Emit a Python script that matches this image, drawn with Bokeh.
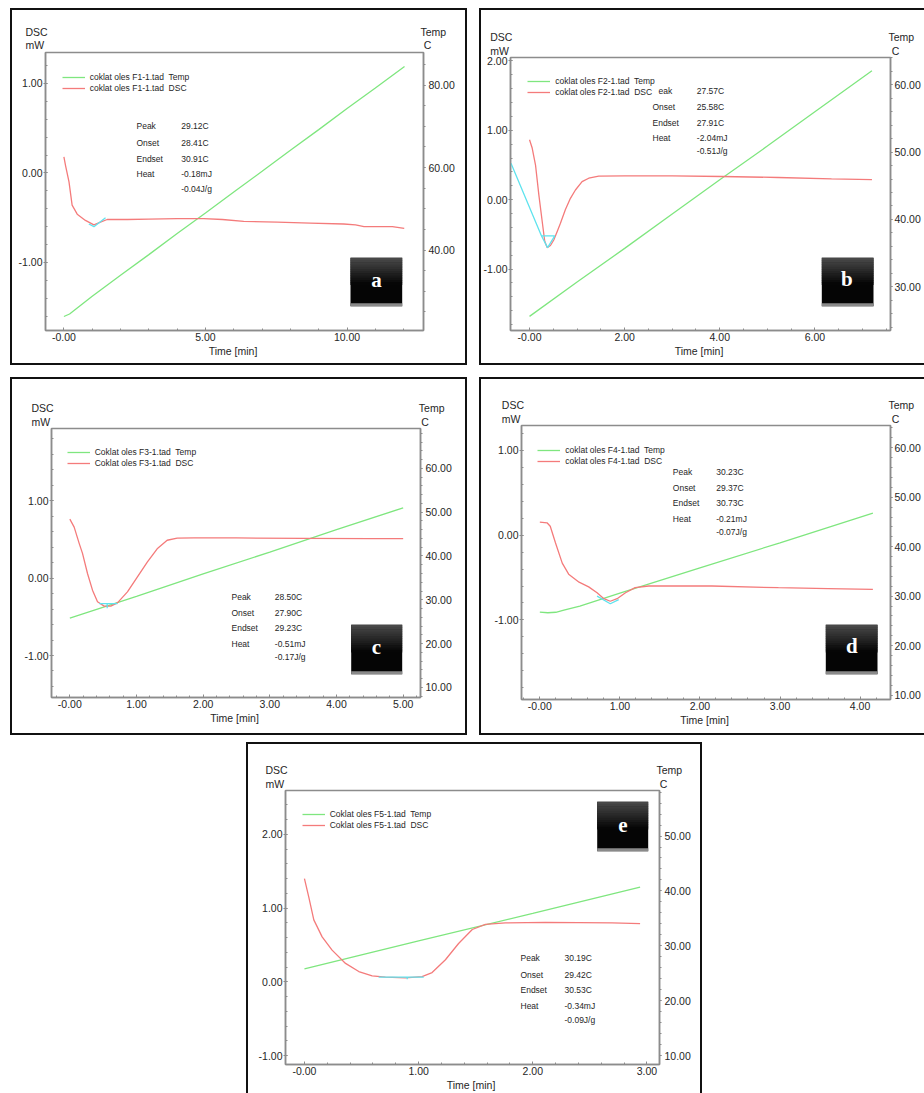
import numpy as np
from bokeh.plotting import figure
from bokeh.models import Range1d, LinearAxis, FixedTicker, PrintfTickFormatter, Label, BoxAnnotation, Spacer
from bokeh.core.properties import value
from bokeh.layouts import row, column
from bokeh.embed import file_html
from bokeh.resources import INLINE

# ---------------- data ----------------
# Panel a  (F1)
A_TEMP_T = [0.0, 0.2, 1.0, 2.0, 3.0, 4.0, 5.0, 6.0, 7.0, 8.0, 9.0, 10.0, 11.0, 12.03]
A_TEMP = [23.9, 24.5, 28.8, 33.9, 38.9, 44.0, 49.0, 54.1, 59.1, 64.2, 69.2, 74.3, 79.3, 84.5]
A_DSC_T = [0.0, 0.06, 0.18, 0.29, 0.47, 0.76, 1.06, 1.29, 1.53, 2.24, 3.0, 4.0, 4.94, 5.6,
           6.35, 7.53, 8.7, 9.88, 10.3, 10.6, 11.06, 11.6, 12.02]
A_DSC = [0.18, 0.08, -0.10, -0.36, -0.46, -0.53, -0.58, -0.55, -0.52, -0.52, -0.515, -0.51,
         -0.51, -0.52, -0.54, -0.55, -0.56, -0.57, -0.58, -0.60, -0.60, -0.60, -0.62]
A_BASE_T = [0.88, 1.06, 1.47]
A_BASE = [-0.57, -0.60, -0.50]
A_LEGEND = ["coklat oles F1-1.tad  Temp", "coklat oles F1-1.tad  DSC"]
A_STAT_NAMES = ["Peak", "Onset", "Endset", "Heat", ""]
A_STAT_VALUES = ["29.12C", "28.41C", "30.91C", "-0.18mJ", "-0.04J/g"]

# Panel b  (F2)
B_TEMP_T = [0.0, 1.0, 2.0, 3.0, 4.0, 5.0, 6.0, 7.2]
B_TEMP = [25.6, 30.7, 35.7, 40.8, 45.9, 50.9, 56.0, 62.1]
B_DSC_T = [0.0, 0.056, 0.126, 0.196, 0.266, 0.32, 0.37, 0.44, 0.51, 0.58, 0.65, 0.755, 0.86,
           0.965, 1.105, 1.245, 1.455, 2.0, 3.0, 4.04, 5.23, 6.35, 7.2]
B_DSC = [0.865, 0.745, 0.50, 0.07, -0.31, -0.60, -0.69, -0.66, -0.58, -0.46, -0.34, -0.14,
         0.02, 0.14, 0.26, 0.31, 0.34, 0.345, 0.345, 0.335, 0.32, 0.30, 0.29]
B_BASE_T = [-0.39, 0.25, 0.38, 0.53, 0.25]
B_BASE = [0.525, -0.52, -0.69, -0.52, -0.52]
B_LEGEND = ["coklat oles F2-1.tad  Temp", "coklat oles F2-1.tad  DSC"]
B_STAT_NAMES = ["eak", "Onset", "Endset", "Heat", ""]
B_STAT_VALUES = ["27.57C", "25.58C", "27.91C", "-2.04mJ", "-0.51J/g"]

# Panel c  (F3)
C_TEMP_T = [0.0, 1.0, 2.0, 3.0, 4.0, 5.0]
C_TEMP = [25.8, 30.8, 35.9, 40.9, 46.0, 51.0]
C_DSC_T = [0.0, 0.065, 0.14, 0.19, 0.265, 0.34, 0.415, 0.515, 0.614, 0.714, 0.864, 1.014,
           1.164, 1.31, 1.46, 1.61, 1.86, 2.5, 3.5, 4.5, 5.0]
C_DSC = [0.763, 0.66, 0.45, 0.32, 0.06, -0.155, -0.306, -0.362, -0.362, -0.319, -0.177, 0.017,
         0.21, 0.38, 0.49, 0.517, 0.52, 0.52, 0.515, 0.51, 0.51]
C_BASE_T = [0.44, 0.56, 0.56, 0.56, 0.714]
C_BASE = [-0.33, -0.33, -0.39, -0.33, -0.33]
C_LEGEND = ["Coklat oles F3-1.tad  Temp", "Coklat oles F3-1.tad  DSC"]
C_STAT_NAMES = ["Peak", "Onset", "Endset", "Heat", ""]
C_STAT_VALUES = ["28.50C", "27.90C", "29.23C", "-0.51mJ", "-0.17J/g"]

# Panel d  (F4)
D_TEMP_T = [0.0, 0.1, 0.2, 0.3, 0.5, 1.0, 2.0, 3.0, 4.16]
D_TEMP = [26.8, 26.65, 26.75, 27.2, 28.0, 30.6, 35.7, 40.8, 46.8]
D_DSC_T = [0.0, 0.09, 0.13, 0.195, 0.28, 0.36, 0.49, 0.61, 0.715, 0.80, 0.88, 0.965, 1.07,
           1.19, 1.36, 1.57, 2.15, 2.98, 3.6, 4.16]
D_DSC = [0.154, 0.146, 0.106, -0.09, -0.33, -0.46, -0.555, -0.61, -0.68, -0.75, -0.78, -0.75,
         -0.68, -0.62, -0.60, -0.60, -0.60, -0.62, -0.63, -0.64]
D_BASE_T = [0.715, 0.88, 0.985]
D_BASE = [-0.72, -0.81, -0.76]
D_LEGEND = ["coklat oles F4-1.tad  Temp", "coklat oles F4-1.tad  DSC"]
D_STAT_NAMES = ["Peak", "Onset", "Endset", "Heat", ""]
D_STAT_VALUES = ["30.23C", "29.37C", "30.73C", "-0.21mJ", "-0.07J/g"]

# Panel e  (F5)
E_TEMP_T = [0.0, 1.0, 2.0, 2.94]
E_TEMP = [25.8, 30.9, 35.9, 40.7]
E_DSC_T = [0.0, 0.038, 0.082, 0.155, 0.242, 0.36, 0.476, 0.593, 0.71, 0.885, 1.03, 1.118,
           1.235, 1.35, 1.47, 1.585, 1.76, 2.11, 2.695, 2.94]
E_DSC = [1.40, 1.15, 0.84, 0.61, 0.43, 0.25, 0.14, 0.08, 0.063, 0.054, 0.072, 0.126, 0.30,
         0.52, 0.71, 0.78, 0.80, 0.806, 0.80, 0.79]
E_BASE_T = [0.65, 0.90, 0.90, 0.90, 1.045]
E_BASE = [0.063, 0.063, 0.035, 0.063, 0.063]
E_LEGEND = ["Coklat oles F5-1.tad  Temp", "Coklat oles F5-1.tad  DSC"]
E_STAT_NAMES = ["Peak", "Onset", "Endset", "Heat", ""]
E_STAT_VALUES = ["30.19C", "29.42C", "30.53C", "-0.34mJ", "-0.09J/g"]

# tick positions
A_XTICKS = [0, 5, 10]; A_YTICKS = [-1, 0, 1]; A_TTICKS = [40, 60, 80]
B_XTICKS = [0, 2, 4, 6]; B_YTICKS = [-1, 0, 1, 2]; B_TTICKS = [30, 40, 50, 60]
C_XTICKS = [0, 1, 2, 3, 4, 5]; C_YTICKS = [-1, 0, 1]; C_TTICKS = [10, 20, 30, 40, 50, 60]
D_XTICKS = [0, 1, 2, 3, 4]; D_YTICKS = [-1, 0, 1]; D_TTICKS = [10, 20, 30, 40, 50, 60]
E_XTICKS = [0, 1, 2, 3]; E_YTICKS = [-1, 0, 1, 2]; E_TTICKS = [10, 20, 30, 40, 50]
PANEL_LETTERS = ["a", "b", "c", "d", "e"]
AXIS_TITLES = ["DSC", "mW", "Temp", "C"]

# ---------------- style ----------------
GREEN = "#7fe67f"
RED = "#f47b7b"
CYAN = "#5fe3ee"
AXC = "#8c8c8c"
TXT = "#262626"
FONT = "Liberation Sans"
SERIF = "Liberation Serif"

SH_FULL = "inset 0 0 0 2px #111"
SH_NORIGHT = "inset 2px 0 0 0 #111, inset 0 2px 0 0 #111, inset 0 -2px 0 0 #111"
SH_NOBOTTOM = "inset 2px 0 0 0 #111, inset -2px 0 0 0 #111, inset 0 2px 0 0 #111"

PANELS = [
    dict(size=(457, 357), borders=(35, 44, 44, 35), xr=(-0.65, 12.70), yr=(-1.76, 1.346), tr=(20.5, 87.9),
         data=(A_TEMP_T, A_TEMP, A_DSC_T, A_DSC, A_BASE_T, A_BASE), legend=A_LEGEND,
         stats=(A_STAT_NAMES, A_STAT_VALUES), ticks=(A_XTICKS, A_YTICKS, A_TTICKS), minor=(1.0, 0.2, 5.0),
         shadow=SH_FULL, dsc_pos=(15, 23.3, 36.7), temp_pos=(410, 413.3), leg=(51.7, 69.3),
         stat_x=(126, 170.7), stat_y=(117.7, 134.3, 150, 165.7, 180), stat_dx=(0, 0, 0, 0, 0),
         box=(340, 391.7, 249.3, 297.7), letter=(366, 271.7), rstand=3),
    dict(size=(445, 357), borders=(31, 34, 49, 35), xr=(-0.40, 7.59), yr=(-1.885, 2.05), tr=(23.5, 64.06),
         data=(B_TEMP_T, B_TEMP, B_DSC_T, B_DSC, B_BASE_T, B_BASE), legend=B_LEGEND,
         stats=(B_STAT_NAMES, B_STAT_VALUES), ticks=(B_XTICKS, B_YTICKS, B_TTICKS), minor=(0.5, 0.2, 2.0),
         shadow=SH_NORIGHT, dsc_pos=(10.7, 28.3, 42.7), temp_pos=(409, 412.3), leg=(48.3, 73.3),
         stat_x=(173, 217.3), stat_y=(82, 98.3, 114, 129.3, 142.7), stat_dx=(6, 0, 0, 0, 0),
         box=(342.3, 394, 249.3, 297.7), letter=(367.3, 270), rstand=2),
    dict(size=(457, 358), borders=(41, 47, 51, 38), xr=(-0.275, 5.26), yr=(-1.543, 1.935), tr=(7.7, 69.1),
         data=(C_TEMP_T, C_TEMP, C_DSC_T, C_DSC, C_BASE_T, C_BASE), legend=C_LEGEND,
         stats=(C_STAT_NAMES, C_STAT_VALUES), ticks=(C_XTICKS, C_YTICKS, C_TTICKS), minor=(0.2, 0.2, 2.0),
         shadow=SH_FULL, dsc_pos=(21, 30.7, 44), temp_pos=(408.3, 410.7), leg=(56.7, 75),
         stat_x=(221, 264.3), stat_y=(219, 235, 250.7, 266.3, 279.7), stat_dx=(0, 0, 0, 0, 0),
         box=(340.7, 391.7, 247.3, 296.7), letter=(366, 269), rstand=3),
    dict(size=(445, 358), borders=(42, 34, 48, 36), xr=(-0.229, 4.38), yr=(-1.94, 1.295), tr=(9.12, 64.5),
         data=(D_TEMP_T, D_TEMP, D_DSC_T, D_DSC, D_BASE_T, D_BASE), legend=D_LEGEND,
         stats=(D_STAT_NAMES, D_STAT_VALUES), ticks=(D_XTICKS, D_YTICKS, D_TTICKS), minor=(0.2, 0.2, 2.0),
         shadow=SH_NORIGHT, dsc_pos=(22.3, 27.3, 41.7), temp_pos=(409, 412.3), leg=(58.3, 72.7),
         stat_x=(193.3, 236.7), stat_y=(94, 110, 125.7, 141.3, 154.7), stat_dx=(0, 0, 0, 0, 0),
         box=(346.3, 398, 247.3, 296.7), letter=(372.3, 268.3), rstand=2),
    dict(size=(456, 351), borders=(39, 43, 48, 28), xr=(-0.166, 3.11), yr=(-1.12, 2.594), tr=(8.36, 58.3),
         data=(E_TEMP_T, E_TEMP, E_DSC_T, E_DSC, E_BASE_T, E_BASE), legend=E_LEGEND,
         stats=(E_STAT_NAMES, E_STAT_VALUES), ticks=(E_XTICKS, E_YTICKS, E_TTICKS), minor=(0.2, 0.2, 2.0),
         shadow=SH_NOBOTTOM, dsc_pos=(19, 27.3, 41.3), temp_pos=(410, 413.3), leg=(55.7, 73),
         stat_x=(274, 318), stat_y=(216.7, 233, 248.7, 264.7, 278.7), stat_dx=(0, 0, 0, 0, 0),
         box=(350.7, 401.7, 60.3, 109.7), letter=(376.3, 83), rstand=3),
]

TOP_GAP = 1  # main figure's own top border below the header strip


def no_align(fig):
    try:
        fig.frame_align = False
    except Exception:
        pass


def minor_list(lo, hi, step):
    start = np.ceil(lo / step) * step
    return [float(v) for v in np.arange(start, hi, step)]


def style_axis(ax, ticks, minor, lo, hi):
    ax.ticker = FixedTicker(ticks=ticks, minor_ticks=minor_list(lo, hi, minor))
    ax.formatter = PrintfTickFormatter(format="%.2f")
    ax.axis_line_color = AXC
    ax.axis_line_width = 1.5
    ax.major_tick_line_color = AXC
    ax.minor_tick_line_color = AXC
    ax.major_label_text_font = FONT
    ax.major_label_text_font_size = "10.5px"
    ax.major_label_text_color = TXT


def build_header(cfg):
    W, H = cfg["size"]
    L, R, T, B = cfg["borders"]
    hh = T - TOP_GAP
    h = figure(width=W, height=hh, title=None, output_backend="svg", toolbar_location=None,
               x_range=Range1d(0, W), y_range=Range1d(hh, 0),
               x_axis_location=None, y_axis_location=None,
               min_border_left=0, min_border_right=0, min_border_top=0, min_border_bottom=0,
               border_fill_color=None, background_fill_color=None, outline_line_color=None)
    no_align(h)
    h.grid.visible = False
    dx, dy1, dy2 = cfg["dsc_pos"]
    tx1, tx2 = cfg["temp_pos"]
    h.text(x=[dx, dx, tx1, tx2], y=[dy1, dy2, dy1, dy2], text=AXIS_TITLES,
           text_font=value(FONT), text_font_size=value("10.5px"), text_color=TXT,
           text_align="left", text_baseline="middle")
    return h


def build(cfg, letter):
    W, H = cfg["size"]
    L, R, T, B = cfg["borders"]
    hh = T - TOP_GAP
    Hm = H - hh
    p = figure(width=W, height=Hm, title=None, output_backend="svg", toolbar_location=None,
               x_range=Range1d(*cfg["xr"]), y_range=Range1d(*cfg["yr"]),
               min_border_left=L, min_border_right=R, min_border_top=TOP_GAP, min_border_bottom=B,
               border_fill_color=None, background_fill_color="white",
               outline_line_color=AXC, outline_line_width=1.5,
               x_axis_label="Time  [min]")
    no_align(p)
    p.extra_y_ranges = {"temp": Range1d(*cfg["tr"])}
    p.xgrid.visible = False
    p.ygrid.visible = False
    rax = LinearAxis(y_range_name="temp")
    p.add_layout(rax, "right")
    xax = p.below[0]
    lax = p.left[0]
    xt, yt, tt = cfg["ticks"]
    mx, my, mt = cfg["minor"]
    style_axis(xax, xt, mx, *cfg["xr"])
    style_axis(lax, yt, my, *cfg["yr"])
    style_axis(rax, tt, mt, *cfg["tr"])
    xax.major_label_overrides = {0: "-0.00"}
    xax.major_tick_in = 3
    xax.major_tick_out = 0
    xax.minor_tick_in = 2
    xax.minor_tick_out = 0
    xax.major_label_standoff = 2
    xax.axis_label_standoff = 1
    xax.axis_label_text_font = FONT
    xax.axis_label_text_font_size = "10.5px"
    xax.axis_label_text_font_style = "normal"
    xax.axis_label_text_color = TXT
    lax.major_tick_in = 2
    lax.major_tick_out = 2
    lax.minor_tick_in = 2
    lax.minor_tick_out = 0
    lax.major_label_standoff = 1
    rax.major_tick_in = 0
    rax.major_tick_out = 2
    rax.minor_tick_in = 0
    rax.minor_tick_out = 2
    rax.major_label_standoff = cfg["rstand"]

    tt_, temp, dt, dsc, bt, base = cfg["data"]
    p.line(tt_, temp, y_range_name="temp", line_color=GREEN, line_width=1.3, legend_label=cfg["legend"][0])
    p.line(dt, dsc, line_color=RED, line_width=1.3, legend_label=cfg["legend"][1])
    p.line(bt, base, line_color=CYAN, line_width=1.3)

    fb = H - B  # frame bottom, in panel-box coordinates

    def fx(bx):
        return bx - L

    def fy(by):
        return fb - by

    leg = p.legend[0]
    gx, r1 = cfg["leg"]
    lh = 11
    leg.location = (fx(gx), fy(r1 - lh / 2) - 2 * lh)
    leg.label_text_font = FONT
    leg.label_text_font_size = "8.5px"
    leg.label_text_color = TXT
    leg.glyph_width = 23
    leg.glyph_height = 8
    leg.label_height = lh
    leg.label_standoff = 5
    leg.spacing = 0
    leg.padding = 0
    leg.margin = 0
    leg.border_line_color = None
    leg.background_fill_alpha = 0

    def txt(bx, by, s, size="8.5px"):
        p.add_layout(Label(x=fx(bx), y=fy(by), x_units="screen", y_units="screen", text=s,
                           text_font=FONT, text_font_size=size, text_color=TXT,
                           text_align="left", text_baseline="middle"))

    names, vals = cfg["stats"]
    sx1, sx2 = cfg["stat_x"]
    for nm, vv, yy, ddx in zip(names, vals, cfg["stat_y"], cfg["stat_dx"]):
        if nm:
            txt(sx1 + ddx, yy, nm)
        txt(sx2, yy, vv)

    x0, x1, y0, y1 = cfg["box"]
    hgt = y1 - y0

    def box(top, bottom, color):
        p.add_layout(BoxAnnotation(left=fx(x0), right=fx(x1), top=fy(top), bottom=fy(bottom),
                                   left_units="screen", right_units="screen", top_units="screen",
                                   bottom_units="screen", fill_color=color, fill_alpha=1.0,
                                   line_color=None))

    box(y0, y1, "#050505")
    nstrip = 12
    frac = 0.55 / nstrip
    for i in range(nstrip):
        g = int(round(0x48 - (0x48 - 0x06) * i / (nstrip - 1)))
        a0 = y0 + i * hgt * frac
        box(a0, a0 + hgt * frac + 0.5, "#%02x%02x%02x" % (g, g, g))
    box(y1 - 3, y1, "#8a8a8a")
    lx, ly = cfg["letter"]
    p.add_layout(Label(x=fx(lx), y=fy(ly), x_units="screen", y_units="screen", text=letter,
                       text_font=SERIF, text_font_size="21px", text_font_style="bold",
                       text_color="white", text_align="center", text_baseline="middle"))
    return p


def panel(cfg, letter):
    return column(build_header(cfg), build(cfg, letter),
                  styles={"background-color": "white", "box-shadow": cfg["shadow"]})


pa, pb, pc, pd, pe = [panel(cfg, let) for cfg, let in zip(PANELS, PANEL_LETTERS)]

layout = column(
    Spacer(width=10, height=8),
    row(Spacer(width=10, height=10), pa, Spacer(width=12, height=10), pb),
    Spacer(width=10, height=12),
    row(Spacer(width=10, height=10), pc, Spacer(width=12, height=10), pd),
    Spacer(width=10, height=7),
    row(Spacer(width=246, height=10), pe),
)

open("out.html", "w").write(file_html(layout, INLINE))
